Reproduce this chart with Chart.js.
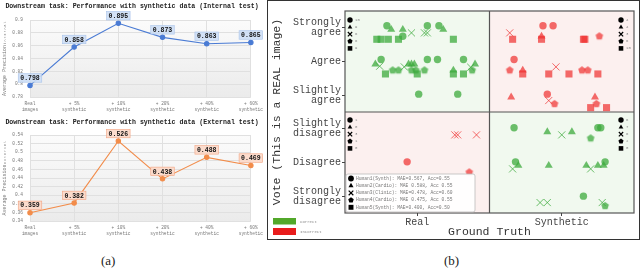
<!DOCTYPE html>
<html>
<head>
<meta charset="utf-8">
<script src="https://cdn.jsdelivr.net/npm/chart.js@4.4.1/dist/chart.umd.min.js"></script>
<style>
html, body { margin: 0; padding: 0; background: #fff; }
#wrap { position: relative; width: 640px; height: 270px; overflow: hidden; }
.box { position: absolute; }
.cap { position: absolute; top: 253px; font: 13px "Liberation Serif", serif; line-height: 15px; color: #222; }
</style>
</head>
<body>
<div id="wrap">
	<div class="box" style="left:0;top:0"><canvas id="internal" width="266" height="116"></canvas></div>
	<div class="box" style="left:0;top:116px"><canvas id="external" width="266" height="128"></canvas></div>
	<div class="box" style="left:267px;top:0"><canvas id="votes" width="373" height="240"></canvas></div>
	<div class="cap" style="left:101px">(a)</div>
	<div class="cap" style="left:444px">(b)</div>
</div>
<script>
const MONO = '"Liberation Mono", "DejaVu Sans Mono", monospace';

// panel (a)
const stepLabels = [['Real', 'images'], ['+ 5%', 'synthetic'], ['+ 10%', 'synthetic'],
	['+ 20%', 'synthetic'], ['+ 40%', 'synthetic'], ['+ 60%', 'synthetic']];
const internalAP = [0.798, 0.858, 0.895, 0.873, 0.863, 0.865];
const externalAP = [0.359, 0.382, 0.526, 0.438, 0.488, 0.469];

// panel (b): vote levels bottom to top, ground truth left to right
const voteLevels = [['Strongly', 'disagree'], ['Disagree'], ['Slightly', 'disagree'],
	['Slightly', 'agree'], ['Agree'], ['Strongly', 'agree']];
const truthLabels = ['Real', 'Synthetic'];

// [ground truth position, vote position] for every image a rater judged (jitter included)
const human1 = [[0.29, 5.56], [0.40, 5.25], [0.57, 5.56], [0.65, 5.56], [0.25, 4.56], [0.57, 4.56], [0.64, 4.56],
	[0.82, 4.56], [0.51, 3.53], [0.78, 3.53], [1.37, 5.56], [1.44, 5.56], [1.17, 4.56], [1.40, 3.53], [0.43, 1.52],
	[1.17, 2.53], [1.75, 2.53], [1.77, 2.53], [1.18, 1.52], [1.80, 1.52], [1.65, 0.50]];
const human2 = [[0.32, 5.45], [0.40, 5.45], [0.68, 5.45], [0.21, 4.42], [0.44, 4.42], [0.46, 4.42], [0.48, 4.42],
	[0.90, 4.42], [0.75, 4.24], [1.36, 5.25], [1.23, 4.24], [1.15, 3.44], [1.73, 3.44], [1.40, 2.41], [1.57, 2.41],
	[1.20, 1.41], [1.41, 1.41], [1.67, 1.41], [1.75, 1.41], [1.79, 1.41]];
const human3 = [[0.46, 5.35], [0.55, 5.35], [0.57, 5.35], [0.24, 4.36], [0.41, 4.34], [0.87, 4.33], [1.14, 5.35],
	[1.46, 4.34], [1.41, 3.34], [0.76, 2.32], [0.78, 2.32], [0.91, 2.32], [1.50, 2.32], [1.16, 1.31], [1.70, 1.31],
	[1.35, 0.31], [1.40, 0.31], [1.78, 0.31]];
const human4 = [[0.33, 4.24], [0.37, 4.24], [0.46, 4.24], [0.49, 4.24], [0.55, 4.24], [0.88, 4.24], [1.76, 5.25],
	[1.14, 4.24], [1.64, 4.24], [1.68, 4.24], [1.45, 3.24], [1.74, 3.24], [0.86, 1.21], [1.70, 2.22], [1.80, 0.21]];
const human5 = [[0.22, 5.16], [0.25, 5.16], [0.30, 5.16], [0.37, 5.16], [0.75, 5.16], [0.28, 4.13], [0.50, 4.13],
	[0.75, 4.13], [0.82, 4.13], [1.16, 5.16], [1.36, 5.16], [1.65, 5.16], [1.66, 5.16], [1.23, 4.13], [1.41, 4.13],
	[1.55, 4.13], [1.75, 4.13], [1.70, 3.13], [1.81, 3.13]];
const raterNames = ['Human1(Synth): MAE=0.567, Acc=0.55', 'Human2(Cardio): MAE 0.588, Acc 0.55',
	'Human3(Clinic): MAE=0.478, Acc=0.60', 'Human4(Cardio): MAE 0.475, Acc 0.55', 'Human5(Synth): MAE=0.400, Acc=0.50'];
const raterMarkers = ['circle', 'triangle', 'crossRot', 'pentagon', 'rect'];

const GREEN = 'rgba(60,170,60,0.75)';
const RED = 'rgba(240,45,45,0.7)';

// ---------- line charts ----------
const plotShade = {
	id: 'plotShade',
	beforeDraw(chart) {
		const {ctx, chartArea: a} = chart;
		const g = ctx.createLinearGradient(0, a.top, 0, a.bottom);
		g.addColorStop(0, '#fbfbfb');
		g.addColorStop(1, '#ebebeb');
		ctx.save();
		ctx.fillStyle = g;
		ctx.fillRect(a.left, a.top, a.right - a.left, a.bottom - a.top);
		ctx.restore();
	}
};

const valueBoxes = {
	id: 'valueBoxes',
	afterDatasetsDraw(chart, args, opts) {
		const ctx = chart.ctx;
		const values = chart.data.datasets[0].data;
		ctx.save();
		ctx.font = 'bold 6.5px ' + MONO;
		ctx.textAlign = 'center';
		ctx.textBaseline = 'middle';
		chart.getDatasetMeta(0).data.forEach((pt, i) => {
			const txt = values[i].toFixed(3);
			const w = ctx.measureText(txt).width + 4, h = 8.5;
			const cx = pt.x, cy = pt.y - 7.5;
			ctx.fillStyle = opts.fill;
			ctx.fillRect(cx - w / 2, cy - h / 2, w, h);
			ctx.strokeStyle = opts.edge;
			ctx.lineWidth = 0.6;
			ctx.strokeRect(cx - w / 2, cy - h / 2, w, h);
			ctx.fillStyle = '#111';
			ctx.fillText(txt, cx, cy + 0.5);
		});
		ctx.restore();
	}
};

function make_line_chart(id, title, yTitle, values, color, box, range, titleGap, xHeight) {
	return new Chart(document.getElementById(id), {
		type: 'line',
		data: {
			labels: stepLabels,
			datasets: [{
				data: values,
				borderColor: color,
				backgroundColor: color,
				borderWidth: 1.1,
				pointRadius: 2.2,
				tension: 0
			}]
		},
		plugins: [plotShade, valueBoxes],
		options: {
			responsive: false,
			animation: false,
			events: [],
			layout: {padding: {left: 0, right: 2, top: 0, bottom: 0}},
			plugins: {
				legend: {display: false},
				tooltip: {enabled: false},
				title: {
					display: true,
					text: title,
					color: '#222',
					font: {family: MONO, size: 6.6, weight: 'bold'},
					padding: {top: 2, bottom: titleGap}
				},
				valueBoxes: box
			},
			scales: {
				x: {
					grid: {color: '#e0e0e0', tickLength: 0},
					border: {display: false},
					ticks: {font: {family: MONO, size: 4.5, lineHeight: 1.5}, color: '#777', padding: 3, maxRotation: 0, autoSkip: false},
					afterFit: s => { s.height = xHeight; }
				},
				y: {
					min: range[0],
					max: range[1],
					grid: {color: '#e0e0e0', tickLength: 0},
					border: {display: false},
					ticks: {stepSize: 0.02, font: {family: MONO, size: 4.5}, color: '#777', padding: 7,
						callback: v => +v.toFixed(2)},
					title: {display: true, text: yTitle, color: '#777', font: {family: MONO, size: 5}, padding: {top: 2, bottom: 0}},
					afterFit: s => { s.width = 30; }
				}
			}
		}
	});
}

make_line_chart('internal', 'Downstream task: Performance with synthetic data (Internal test)',
	'Average Precisionᵢₙₜₑᵣₙₐₗ', internalAP, '#4a7bd4',
	{fill: 'rgba(205,222,245,0.9)', edge: '#a9c3ea'}, [0.78, 0.9], 10.1, 19);
make_line_chart('external', 'Downstream task: Performance with synthetic data (External test)',
	'Average Precisionₑₓₜₑᵣₙₐₗ', externalAP, '#f28c4a',
	{fill: 'rgba(252,216,200,0.9)', edge: '#f2a482'}, [0.34, 0.54], 9.1, 23);

// ---------- vote scatter ----------
function pentagon(color, r) {
	const c = document.createElement('canvas');
	const s = Math.ceil(r * 2 + 2);
	c.width = c.height = s;
	const g = c.getContext('2d');
	g.fillStyle = color;
	g.beginPath();
	for (let k = 0; k < 5; k++) {
		const ang = -Math.PI / 2 + k * 2 * Math.PI / 5;
		const px = s / 2 + r * Math.cos(ang), py = s / 2 + r * Math.sin(ang);
		k ? g.lineTo(px, py) : g.moveTo(px, py);
	}
	g.closePath();
	g.fill();
	return c;
}
const pentGreen = pentagon(GREEN, 4);
const pentRed = pentagon(RED, 4);

// a vote is correct when "real" side agrees or "synthetic" side disagrees
function is_correct(p) {
	return (p.x < 1) === (p.y > 3);
}
function mark_color(ctx) {
	return ctx.raw && !is_correct(ctx.raw) ? RED : GREEN;
}

function draw_marker(ctx, style, x, y, r) {
	ctx.beginPath();
	if (style === 'circle') {
		ctx.arc(x, y, r, 0, Math.PI * 2);
		ctx.fill();
	} else if (style === 'triangle') {
		ctx.moveTo(x, y - r);
		ctx.lineTo(x + r * 0.87, y + r * 0.5);
		ctx.lineTo(x - r * 0.87, y + r * 0.5);
		ctx.closePath();
		ctx.fill();
	} else if (style === 'crossRot') {
		const d = r * 0.8;
		ctx.moveTo(x - d, y - d); ctx.lineTo(x + d, y + d);
		ctx.moveTo(x + d, y - d); ctx.lineTo(x - d, y + d);
		ctx.lineWidth = 1.2;
		ctx.stroke();
	} else if (style === 'pentagon') {
		for (let k = 0; k < 5; k++) {
			const ang = -Math.PI / 2 + k * 2 * Math.PI / 5;
			const px = x + r * Math.cos(ang), py = y + r * Math.sin(ang);
			k ? ctx.lineTo(px, py) : ctx.moveTo(px, py);
		}
		ctx.closePath();
		ctx.fill();
	} else {
		ctx.rect(x - r * 0.85, y - r * 0.85, r * 1.7, r * 1.7);
		ctx.fill();
	}
}

const quadrants = {
	id: 'quadrants',
	beforeDraw(chart) {
		const {ctx, chartArea: a, scales} = chart;
		const mx = scales.x.getPixelForValue(1), my = scales.y.getPixelForValue(3);
		ctx.save();
		ctx.strokeStyle = '#333';
		ctx.lineWidth = 1;
		ctx.strokeRect(0.5, 0.5, chart.width - 1, chart.height - 1);
		ctx.fillStyle = '#f1f9ef';
		ctx.fillRect(a.left, a.top, mx - a.left, my - a.top);
		ctx.fillRect(mx, my, a.right - mx, a.bottom - my);
		ctx.fillStyle = '#fcf0ef';
		ctx.fillRect(mx, a.top, a.right - mx, my - a.top);
		ctx.fillRect(a.left, my, mx - a.left, a.bottom - my);
		ctx.strokeStyle = '#555';
		ctx.lineWidth = 1.2;
		ctx.strokeRect(a.left, a.top, a.right - a.left, a.bottom - a.top);
		ctx.beginPath();
		ctx.moveTo(mx, a.top); ctx.lineTo(mx, a.bottom);
		ctx.moveTo(a.left, my); ctx.lineTo(a.right, my);
		ctx.stroke();
		ctx.restore();
	},
	afterDraw(chart) {
		const {ctx, chartArea: a, scales} = chart;
		const mx = scales.x.getPixelForValue(1), my = scales.y.getPixelForValue(3);
		const sets = chart.data.datasets;
		ctx.save();
		// per-quadrant counts
		const corners = [[a.left + 5, a.top + 9, true, true], [a.right - 13, a.top + 9, false, true],
			[a.left + 5, my + 8, true, false], [a.right - 13, my + 8, false, false]];
		ctx.font = '4px ' + MONO;
		ctx.textBaseline = 'middle';
		corners.forEach(([x, y, left, top]) => {
			sets.forEach((ds, i) => {
				const n = ds.data.filter(p => (p.x < 1) === left && (p.y > 3) === top).length;
				const yy = y + i * 7.1;
				ctx.fillStyle = '#000';
				ctx.strokeStyle = '#000';
				draw_marker(ctx, raterMarkers[i], x, yy, 2.7);
				ctx.fillStyle = '#888';
				ctx.fillText(String(n), x + 5, yy);
			});
		});
		// rater legend
		const bx = a.left + 1, by = a.bottom - 39, bw = 129, bh = 38;
		ctx.fillStyle = 'rgba(255,255,255,0.92)';
		ctx.strokeStyle = '#bbb';
		ctx.lineWidth = 0.8;
		ctx.beginPath();
		ctx.roundRect(bx, by, bw, bh, 2);
		ctx.fill();
		ctx.stroke();
		ctx.font = '4.6px ' + MONO;
		sets.forEach((ds, i) => {
			const yy = by + 4.5 + i * 7.2;
			ctx.fillStyle = '#000';
			ctx.strokeStyle = '#000';
			draw_marker(ctx, raterMarkers[i], bx + 5, yy, 2.9);
			ctx.fillStyle = '#777';
			ctx.fillText(ds.label, bx + 10, yy);
		});
		// correct / incorrect key
		ctx.fillStyle = '#52a82a';
		ctx.fillRect(6, 218, 23, 6.5);
		ctx.fillStyle = '#e81c1c';
		ctx.fillRect(6, 228, 23, 7);
		ctx.fillStyle = '#888';
		ctx.font = '4px ' + MONO;
		ctx.fillText('Correct', 33, 221.5);
		ctx.fillText('Incorrect', 33, 231.5);
		ctx.restore();
	}
};

const raters = [human1, human2, human3, human4, human5];
const markerRadius = [3.7, 4.6, 5, 0, 5];

new Chart(document.getElementById('votes'), {
	type: 'scatter',
	data: {
		datasets: raters.map((pts, i) => ({
			label: raterNames[i],
			data: pts.map(([x, y]) => ({x: x, y: y})),
			pointStyle: raterMarkers[i] === 'pentagon'
				? (ctx => (ctx.raw && !is_correct(ctx.raw) ? pentRed : pentGreen))
				: raterMarkers[i],
			pointRadius: markerRadius[i] || 4,
			backgroundColor: mark_color,
			borderColor: mark_color,
			borderWidth: raterMarkers[i] === 'crossRot' ? 1 : 0
		}))
	},
	plugins: [quadrants],
	options: {
		responsive: false,
		animation: false,
		events: [],
		layout: {padding: {left: 0, right: 6, top: 4, bottom: 0}},
		plugins: {legend: {display: false}, tooltip: {enabled: false}},
		scales: {
			x: {
				min: 0,
				max: 2,
				afterBuildTicks: s => { s.ticks = truthLabels.map((_, i) => ({value: i + 0.5})); },
				ticks: {callback: v => truthLabels[Math.floor(v)], font: {family: MONO, size: 10}, color: '#444', padding: 0},
				grid: {drawOnChartArea: false, tickLength: 3, color: '#444'},
				border: {display: false},
				title: {display: true, text: 'Ground Truth', color: '#333', font: {family: MONO, size: 11.5}, padding: {top: 0, bottom: 1}},
				afterFit: s => { s.height = 27; }
			},
			y: {
				min: 0,
				max: 6,
				afterBuildTicks: s => { s.ticks = voteLevels.map((_, i) => ({value: i + 0.5})); },
				ticks: {callback: v => voteLevels[Math.floor(v)], font: {family: MONO, size: 10, lineHeight: 1}, color: '#444', padding: 1},
				grid: {drawOnChartArea: false, tickLength: 3, color: '#444'},
				border: {display: false},
				title: {display: true, text: 'Vote (This is a REAL image)', color: '#333', font: {family: MONO, size: 11.5}, padding: {top: 3, bottom: 0}},
				afterFit: s => { s.width = 78; }
			}
		}
	}
});
</script>
</body>
</html>
